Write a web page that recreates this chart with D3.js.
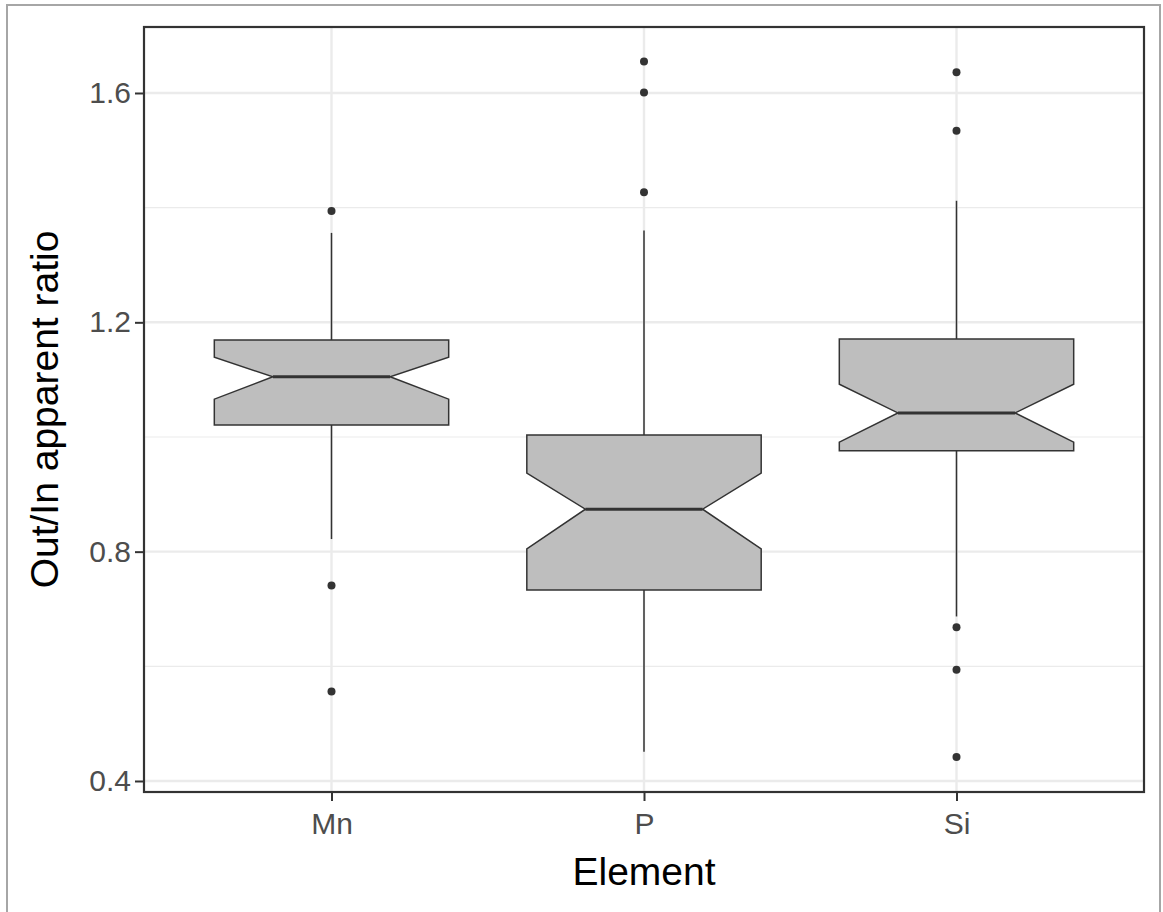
<!DOCTYPE html>
<html>
<head>
<meta charset="utf-8">
<script src="https://cdn.jsdelivr.net/npm/d3@7"></script>
<style>
  body { margin: 0; background: #fff; }
  text { font-family: "Liberation Sans", Arial, sans-serif; }
</style>
</head>
<body>
<div id="chart"></div>
<script>
// Values
const categories = ["Mn", "P", "Si"];
const lowerWhisker = [0.822, 0.451, 0.687];
const lowerHinge = [1.021, 0.733, 0.976];
const medians = [1.105, 0.874, 1.042];
const upperHinge = [1.169, 1.0035, 1.171];
const upperWhisker = [1.356, 1.360, 1.412];
const notchLower = [1.066, 0.805, 0.991];
const notchUpper = [1.139, 0.937, 1.092];
const outliers = [
  [1.394, 0.741, 0.556],
  [1.655, 1.601, 1.427],
  [1.636, 1.534, 0.668, 0.594, 0.442]
];
const yTicks = [0.4, 0.8, 1.2, 1.6];
const yMinorTicks = [0.6, 1.0, 1.4];

var W = 1163, H = 912;
var margin = {top: 27, right: 19, bottom: 120, left: 144},
    width = W - margin.left - margin.right,
    height = H - margin.top - margin.bottom;

var svg = d3.select("#chart")
  .append("svg")
    .attr("width", W)
    .attr("height", H);

// outer frame of the picture
svg.append("path")
  .attr("d", "M7," + H + "V5H1160V" + H)
  .attr("fill", "none")
  .attr("stroke", "#a6a6a6")
  .attr("stroke-width", 2);

var g = svg.append("g")
  .attr("transform", "translate(" + margin.left + "," + margin.top + ")");

var x = d3.scalePoint()
  .domain(categories)
  .range([0, width])
  .padding(0.6);

var y = d3.scaleLinear()
  .domain([0.3808, 1.7151])
  .range([height, 0]);

var boxW = x.step() * 0.75;

// grid lines
g.selectAll(".minor")
  .data(yMinorTicks)
  .enter().append("line")
    .attr("x1", 0).attr("x2", width)
    .attr("y1", d => y(d)).attr("y2", d => y(d))
    .attr("stroke", "#ebebeb").attr("stroke-width", 1.2);

g.selectAll(".major")
  .data(yTicks)
  .enter().append("line")
    .attr("x1", 0).attr("x2", width)
    .attr("y1", d => y(d)).attr("y2", d => y(d))
    .attr("stroke", "#ebebeb").attr("stroke-width", 2.4);

g.selectAll(".vmajor")
  .data(categories)
  .enter().append("line")
    .attr("x1", d => x(d)).attr("x2", d => x(d))
    .attr("y1", 0).attr("y2", height)
    .attr("stroke", "#ebebeb").attr("stroke-width", 2.4);

// whiskers
categories.forEach(function(c, i) {
  g.append("line")
    .attr("x1", x(c)).attr("x2", x(c))
    .attr("y1", y(upperHinge[i])).attr("y2", y(upperWhisker[i]))
    .attr("stroke", "#333").attr("stroke-width", 1.5);
  g.append("line")
    .attr("x1", x(c)).attr("x2", x(c))
    .attr("y1", y(lowerHinge[i])).attr("y2", y(lowerWhisker[i]))
    .attr("stroke", "#333").attr("stroke-width", 1.5);
});

// notched boxes
categories.forEach(function(c, i) {
  var x0 = x(c) - boxW / 2, x1 = x(c) + boxW / 2;
  var n0 = x(c) - boxW / 4, n1 = x(c) + boxW / 4;
  var pts = [
    [x0, y(upperHinge[i])], [x1, y(upperHinge[i])],
    [x1, y(notchUpper[i])], [n1, y(medians[i])],
    [x1, y(notchLower[i])], [x1, y(lowerHinge[i])],
    [x0, y(lowerHinge[i])], [x0, y(notchLower[i])],
    [n0, y(medians[i])], [x0, y(notchUpper[i])]
  ];
  g.append("path")
    .attr("d", d3.line()(pts) + "Z")
    .attr("fill", "#bebebe")
    .attr("stroke", "#333")
    .attr("stroke-width", 1.5)
    .attr("stroke-linejoin", "miter");
  g.append("line")
    .attr("x1", n0).attr("x2", n1)
    .attr("y1", y(medians[i])).attr("y2", y(medians[i]))
    .attr("stroke", "#333").attr("stroke-width", 3);
});

// outlier points
categories.forEach(function(c, i) {
  g.selectAll(".out" + i)
    .data(outliers[i])
    .enter().append("circle")
      .attr("cx", x(c))
      .attr("cy", d => y(d))
      .attr("r", 4)
      .attr("fill", "#333");
});

// panel border
g.append("rect")
  .attr("width", width).attr("height", height)
  .attr("fill", "none")
  .attr("stroke", "#333")
  .attr("stroke-width", 2.2);

// axes
var xAxis = g.append("g")
  .attr("transform", "translate(0," + height + ")")
  .call(d3.axisBottom(x).tickSize(9).tickPadding(4));
var yAxis = g.append("g")
  .call(d3.axisLeft(y).tickValues(yTicks).tickFormat(d3.format(".1f")).tickSize(9).tickPadding(4));

[xAxis, yAxis].forEach(function(a) {
  a.select(".domain").remove();
  a.selectAll(".tick line").attr("stroke", "#333").attr("stroke-width", 2);
  a.selectAll(".tick text")
    .attr("fill", "#4d4d4d")
    .style("font-size", "30px");
});
xAxis.selectAll(".tick text").attr("dy", "0.95em");

// axis titles
svg.append("text")
  .attr("x", margin.left + width / 2)
  .attr("y", 885)
  .attr("text-anchor", "middle")
  .attr("fill", "#000")
  .style("font-size", "39px")
  .text("Element");

svg.append("text")
  .attr("transform", "translate(58," + (margin.top + height / 2) + ") rotate(-90)")
  .attr("text-anchor", "middle")
  .attr("fill", "#000")
  .style("font-size", "39px")
  .text("Out/In apparent ratio");
</script>
</body>
</html>
